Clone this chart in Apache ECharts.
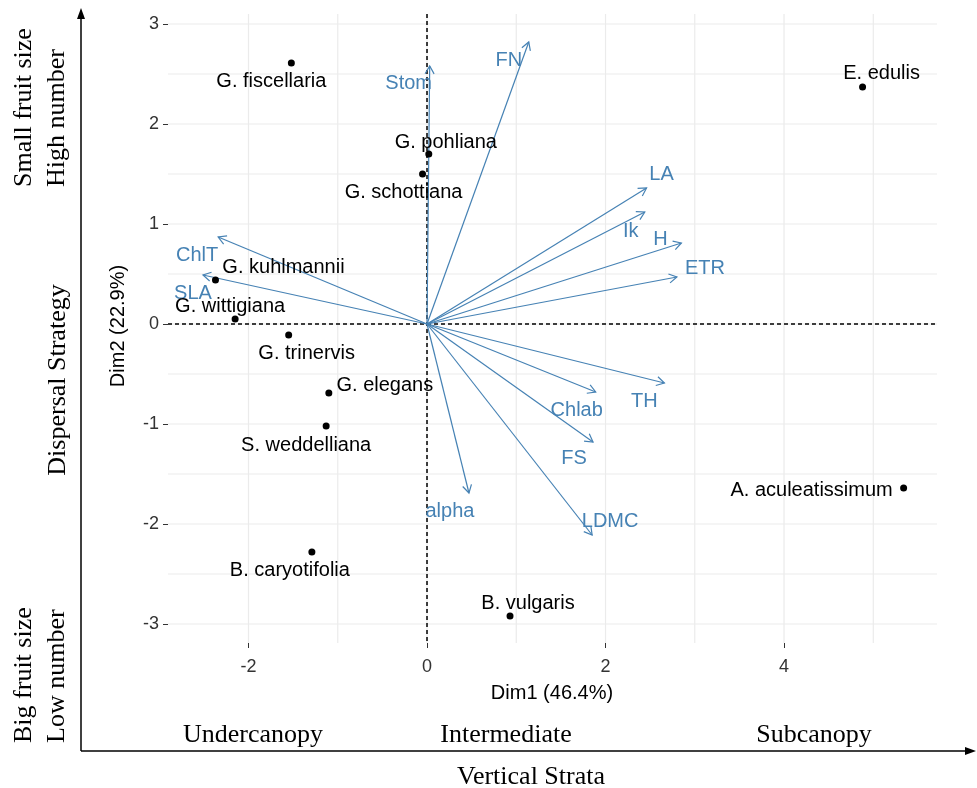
<!DOCTYPE html>
<html>
<head>
<meta charset="utf-8">
<script src="https://cdn.jsdelivr.net/npm/echarts@6/dist/echarts.min.js"></script>
<style>
  html, body { margin: 0; padding: 0; background: #ffffff; }
  #chart { width: 977px; height: 788px; }
</style>
</head>
<body>
<div id="chart"></div>
<script>
// PCA individuals (species scores on Dim1 / Dim2)
const species = ['G. fiscellaria', 'E. edulis', 'G. pohliana', 'G. schottiana', 'G. kuhlmannii',
  'G. wittigiana', 'G. trinervis', 'G. elegans', 'S. weddelliana', 'B. caryotifolia',
  'B. vulgaris', 'A. aculeatissimum'];
const speciesDim1 = [-1.52, 4.88, 0.02, -0.05, -2.37, -2.15, -1.55, -1.10, -1.13, -1.29, 0.93, 5.34];
const speciesDim2 = [2.61, 2.37, 1.70, 1.50, 0.44, 0.05, -0.11, -0.69, -1.02, -2.28, -2.92, -1.64];

// Trait loadings (arrow tips)
const traits = ['Stom', 'FN', 'LA', 'Ik', 'H', 'ETR', 'ChlT', 'SLA', 'TH', 'Chlab', 'FS', 'alpha', 'LDMC'];
const traitDim1 = [0.03, 1.14, 2.46, 2.44, 2.85, 2.80, -2.34, -2.51, 2.66, 1.89, 1.86, 0.47, 1.85];
const traitDim2 = [2.58, 2.82, 1.36, 1.12, 0.81, 0.47, 0.87, 0.49, -0.59, -0.68, -1.18, -1.69, -2.11];

// Axis ticks and grid positions
const xTickValues = [-2, 0, 2, 4];
const yTickValues = [-3, -2, -1, 0, 1, 2, 3];
const xGridValues = [-2, -1, 0, 1, 2, 3, 4, 5];
const yGridValues = [-3, -2.5, -2, -1.5, -1, -0.5, 0, 0.5, 1, 1.5, 2, 2.5, 3];

// Label placement (pixel offsets from the mark), repelled to avoid overlaps
const speciesLabelOffset = {
  'G. fiscellaria': [-20, 18], 'E. edulis': [19, -14], 'G. pohliana': [17, -12],
  'G. schottiana': [-19, 18], 'G. kuhlmannii': [68, -13], 'G. wittigiana': [-5, -13],
  'G. trinervis': [18, 18], 'G. elegans': [56, -8], 'S. weddelliana': [-20, 19],
  'B. caryotifolia': [-22, 18], 'B. vulgaris': [18, -13], 'A. aculeatissimum': [-92, 2]
};
const traitLabelOffset = {
  'Stom': [-21, 17], 'FN': [-20, 18], 'LA': [15, -14], 'Ik': [-14, 19], 'H': [-21, -4],
  'ETR': [28, -9], 'ChlT': [-21, 18], 'SLA': [-10, 18], 'TH': [-20, 18], 'Chlab': [-19, 18],
  'FS': [-19, 16], 'alpha': [-19, 18], 'LDMC': [18, -14]
};

const SANS = '"Liberation Sans", Arial, sans-serif';
const SERIF = '"Liberation Serif", "Times New Roman", serif';
const ARROW = '#4682B4';

const chart = echarts.init(document.getElementById('chart'), null, { renderer: 'canvas' });

const gridRule = { stroke: '#EBEBEB', lineWidth: 1.2 };

const option = {
  backgroundColor: '#ffffff',
  animation: false,
  grid: { left: 168, right: 40, top: 14, bottom: 145, containLabel: false },
  xAxis: {
    type: 'value', min: -2.902, max: 5.714,
    axisLine: { show: false, onZero: false },
    splitLine: { show: false },
    axisTick: { show: true, customValues: xTickValues, length: 5, lineStyle: { color: '#333', width: 1 } },
    axisLabel: { customValues: xTickValues, margin: 15, color: '#333', fontSize: 18, fontFamily: SANS }
  },
  yAxis: {
    type: 'value', min: -3.19, max: 3.10,
    axisLine: { show: false, onZero: false },
    splitLine: { show: false },
    axisTick: { show: true, customValues: yTickValues, length: 5, lineStyle: { color: '#333', width: 1 } },
    axisLabel: { customValues: yTickValues, margin: 9, color: '#333', fontSize: 18, fontFamily: SANS }
  },
  series: [
    {
      // background grid
      type: 'custom', silent: true, z: 1, clip: false,
      data: xGridValues.map(v => ['x', v]).concat(yGridValues.map(v => ['y', v])),
      dimensions: [{ name: 'dir', type: 'ordinal' }, 'v'],
      encode: { x: -1, y: -1 },
      renderItem(params, api) {
        const cs = params.coordSys;
        const dir = api.value(0), v = api.value(1);
        if (dir === 'x') {
          const px = api.coord([v, 0])[0];
          return { type: 'line', shape: { x1: px, y1: cs.y, x2: px, y2: cs.y + cs.height }, style: gridRule };
        }
        const py = api.coord([0, v])[1];
        return { type: 'line', shape: { x1: cs.x, y1: py, x2: cs.x + cs.width, y2: py }, style: gridRule };
      }
    },
    {
      // dashed reference lines through the origin
      type: 'custom', silent: true, z: 2, clip: false,
      data: [['x', 0], ['y', 0]],
      dimensions: [{ name: 'dir', type: 'ordinal' }, 'v'],
      encode: { x: -1, y: -1 },
      renderItem(params, api) {
        const cs = params.coordSys;
        const dir = api.value(0);
        const o = api.coord([0, 0]);
        const style = { stroke: '#000', lineWidth: 1.5, lineDash: [4, 3] };
        if (dir === 'x') {
          return { type: 'line', shape: { x1: o[0], y1: cs.y, x2: o[0], y2: cs.y + cs.height }, style };
        }
        return { type: 'line', shape: { x1: cs.x, y1: o[1], x2: cs.x + cs.width, y2: o[1] }, style };
      }
    },
    {
      // trait arrows with open heads
      type: 'custom', z: 3, clip: false,
      data: traits.map((t, i) => [traitDim1[i], traitDim2[i], t]),
      dimensions: ['dim1', 'dim2', { name: 'trait', type: 'ordinal' }],
      encode: { x: 0, y: 1 },
      renderItem(params, api) {
        const tip = api.coord([api.value(0), api.value(1)]);
        const o = api.coord([0, 0]);
        const name = traits[params.dataIndex];
        const ang = Math.atan2(tip[1] - o[1], tip[0] - o[0]);
        const L = 9, a = Math.PI / 6;
        const h1 = [tip[0] - L * Math.cos(ang - a), tip[1] - L * Math.sin(ang - a)];
        const h2 = [tip[0] - L * Math.cos(ang + a), tip[1] - L * Math.sin(ang + a)];
        const off = traitLabelOffset[name];
        const stroke = { stroke: ARROW, lineWidth: 1.2, fill: null };
        return {
          type: 'group',
          children: [
            { type: 'line', shape: { x1: o[0], y1: o[1], x2: tip[0], y2: tip[1] }, style: stroke },
            { type: 'polyline', shape: { points: [h1, tip, h2] }, style: stroke },
            {
              type: 'text', x: tip[0] + off[0], y: tip[1] + off[1],
              style: { text: name, fill: ARROW, fontSize: 20, fontFamily: SANS, align: 'center', verticalAlign: 'middle' }
            }
          ]
        };
      }
    },
    {
      // species scores
      type: 'scatter', z: 4,
      symbol: 'circle', symbolSize: 7,
      itemStyle: { color: '#000', opacity: 1 },
      data: species.map((s, i) => ({
        name: s,
        value: [speciesDim1[i], speciesDim2[i]],
        label: { offset: speciesLabelOffset[s] }
      })),
      label: {
        show: true, position: 'inside', formatter: '{b}',
        color: '#000', opacity: 1, fontSize: 20, fontFamily: SANS
      },
      emphasis: { disabled: true }
    }
  ],
  graphic: [
    // axis titles of the ordination
    { type: 'text', x: 552, y: 693, style: { text: 'Dim1 (46.4%)', fill: '#000', fontSize: 20, fontFamily: SANS, align: 'center', verticalAlign: 'middle' } },
    { type: 'text', x: 118, y: 326, rotation: Math.PI / 2, style: { text: 'Dim2 (22.9%)', fill: '#000', fontSize: 20, fontFamily: SANS, align: 'center', verticalAlign: 'middle' } },

    // outer interpretive axes
    { type: 'line', shape: { x1: 81, y1: 751, x2: 81, y2: 16 }, style: { stroke: '#000', lineWidth: 1.5 } },
    { type: 'polygon', shape: { points: [[81, 8], [77, 19], [85, 19]] }, style: { fill: '#000' } },
    { type: 'line', shape: { x1: 81, y1: 751, x2: 968, y2: 751 }, style: { stroke: '#000', lineWidth: 1.5 } },
    { type: 'polygon', shape: { points: [[976, 751], [965, 747], [965, 755]] }, style: { fill: '#000' } },

    { type: 'text', x: 41, y: 187, rotation: Math.PI / 2, style: { text: 'Small fruit size\nHigh number', fill: '#000', fontSize: 26, lineHeight: 33, fontFamily: SERIF, align: 'left', verticalAlign: 'middle' } },
    { type: 'text', x: 58, y: 380, rotation: Math.PI / 2, style: { text: 'Dispersal Strategy', fill: '#000', fontSize: 26, fontFamily: SERIF, align: 'center', verticalAlign: 'middle' } },
    { type: 'text', x: 41, y: 743, rotation: Math.PI / 2, style: { text: 'Big fruit size\nLow number', fill: '#000', fontSize: 26, lineHeight: 33, fontFamily: SERIF, align: 'left', verticalAlign: 'middle' } },

    { type: 'text', x: 253, y: 735, style: { text: 'Undercanopy', fill: '#000', fontSize: 26, fontFamily: SERIF, align: 'center', verticalAlign: 'middle' } },
    { type: 'text', x: 506, y: 735, style: { text: 'Intermediate', fill: '#000', fontSize: 26, fontFamily: SERIF, align: 'center', verticalAlign: 'middle' } },
    { type: 'text', x: 814, y: 735, style: { text: 'Subcanopy', fill: '#000', fontSize: 26, fontFamily: SERIF, align: 'center', verticalAlign: 'middle' } },
    { type: 'text', x: 531, y: 777, style: { text: 'Vertical Strata', fill: '#000', fontSize: 26, fontFamily: SERIF, align: 'center', verticalAlign: 'middle' } }
  ]
};

chart.setOption(option);
</script>
</body>
</html>
